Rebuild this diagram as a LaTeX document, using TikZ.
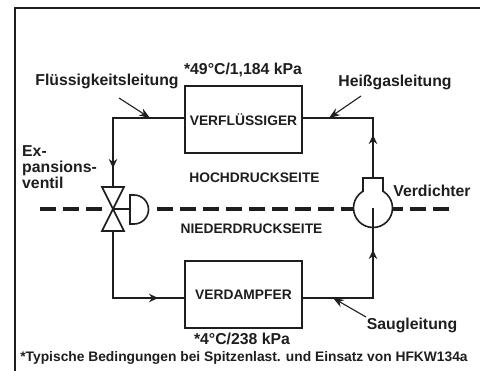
\documentclass[tikz,border=0pt]{standalone}
\usepackage{xcolor}
\usepackage{fontspec}
\setmainfont{Liberation Sans}
\usetikzlibrary{arrows.meta}
\definecolor{ink}{HTML}{1E1E1E}
\tikzset{
    lbl/.style={font=\bfseries\fontsize{15.8}{16}\selectfont, text=ink, inner sep=0pt},
    boxlbl/.style={font=\bfseries\fontsize{13.8}{15}\selectfont, text=ink, inner sep=0pt},
    unit/.style={draw=ink, line width=1.6pt, minimum width=117pt, minimum height=67pt, inner sep=0pt, font=\bfseries\fontsize{13.8}{15}\selectfont, text=ink},
    pipe/.style={draw=ink, line width=1.1pt},
    flow/.style={-{Stealth[length=9pt,width=8.5pt]}, draw=ink, line width=1.1pt},
    pointer/.style={-{Stealth[length=11pt,width=8pt]}, draw=ink, line width=1.1pt},
    sep/.style={draw=ink, line width=3.8pt, dash pattern=on 16pt off 7pt}
}
\begin{document}
\begin{tikzpicture}[x=1pt, y=-1pt, >=stealth]
\useasboundingbox (0,0) rectangle (480,371);
\fill[white] (0,0) rectangle (480,371);
\coordinate (TL) at (15,8);
\coordinate (TR) at (480,8);
\coordinate (BL) at (15,371);
\draw[ink, line width=1.5pt] (BL) -- (TL) -- (TR);

\node[unit] (cond) at (243.5,119.5) {VERFLÜSSIGER};
\node[unit] (evap) at (243.5,294.5) {VERDAMPFER};

\coordinate (V) at (113,209);
\coordinate (C) at (373,208);
\coordinate (VT) at (113,187);
\coordinate (VB) at (113,231);
\coordinate (NT) at (373,178);
\coordinate (CB) at (373,227);
\coordinate (TLc) at (113,118);
\coordinate (BLc) at (113,298);
\coordinate (TRc) at (373,118);
\coordinate (BRc) at (373,298);

% separator line
\coordinate (S0) at (40,209);
\coordinate (S1) at (102,209);
\coordinate (S2) at (157,209);
\coordinate (S3) at (354,209);
\coordinate (S4) at (393,209);
\coordinate (S5) at (451,209);
\draw[sep] (S0) -- (S1);
\draw[sep] (S2) -- (S3);
\draw[sep, dash phase=6pt] (S4) -- (S5);

% pipes
\draw[pipe] (cond.west |- TLc) -- (TLc) -- (VT);
\draw[flow] (TLc) -- (113,168);
\draw[pipe] (VB) -- (BLc) -- (evap.west |- BLc);
\draw[flow] (BLc) -- (158,298);
\draw[pipe] (evap.east |- BRc) -- (BRc) -- (C);
\draw[flow] (BRc) -- (373,250);
\draw[pipe] (NT) -- (TRc) -- (cond.east |- TRc);
\draw[flow] (NT) -- (373,135);

% valve
\draw[ink, line width=1.6pt, line join=miter] (V) -- (102,187) -- (124,187) -- cycle;
\draw[ink, line width=1.6pt, line join=miter] (V) -- (102,231) -- (124,231) -- cycle;
\draw[ink, line width=1.3pt] (V) -- (130,209);
\draw[ink, line width=1.6pt, fill=white] (130,195) -- (134,195) arc (-90:90:14.5) -- (130,224) -- cycle;

% compressor
\draw[ink, line width=1.6pt, fill=white] (363,191) -- (363,178) -- (383,178) -- (383,191);
\draw[ink, line width=1.6pt, fill=white] (C) circle (19.5);
\fill[white] (364,180) rectangle (382,194);
\draw[pipe] (C) -- (CB);

% labels
\node[lbl] (hp) at (243,70.5) {*49°C/1,184 kPa};
\node[lbl] (lp) at (242,339) {*4°C/238 kPa};
\node[lbl] (liq) at (107,81) {Flüssigkeitsleitung};
\node[lbl] (hot) at (395,82) {Heißgasleitung};
\node[lbl] (suc) at (412,325) {Saugleitung};
\node[lbl] (comp) at (432,191) {Verdichter};
\node[lbl, align=left, anchor=north west] (exp) at (22,145) {Ex-\\pansions-\\ventil};
\node[boxlbl] (hi) at (254.5,178) {HOCHDRUCKSEITE};
\node[boxlbl] (lo) at (251.5,229) {NIEDERDRUCKSEITE};
\node[font=\bfseries\fontsize{13.8}{15}\selectfont, text=ink, inner sep=0pt] (note) at (244,358) {*Typische Bedingungen bei Spitzenlast. und Einsatz von HFKW134a};

% pointers
\coordinate (p1) at (119,98);
\coordinate (p1e) at (150,118);
\coordinate (p2) at (361,96);
\coordinate (p2e) at (329,118);
\coordinate (p3) at (366,317);
\coordinate (p3e) at (333,298);
\draw[pointer] (p1) -- (p1e);
\draw[pointer] (p2) -- (p2e);
\draw[pointer] (p3) -- (p3e);
\end{tikzpicture}
\end{document}
